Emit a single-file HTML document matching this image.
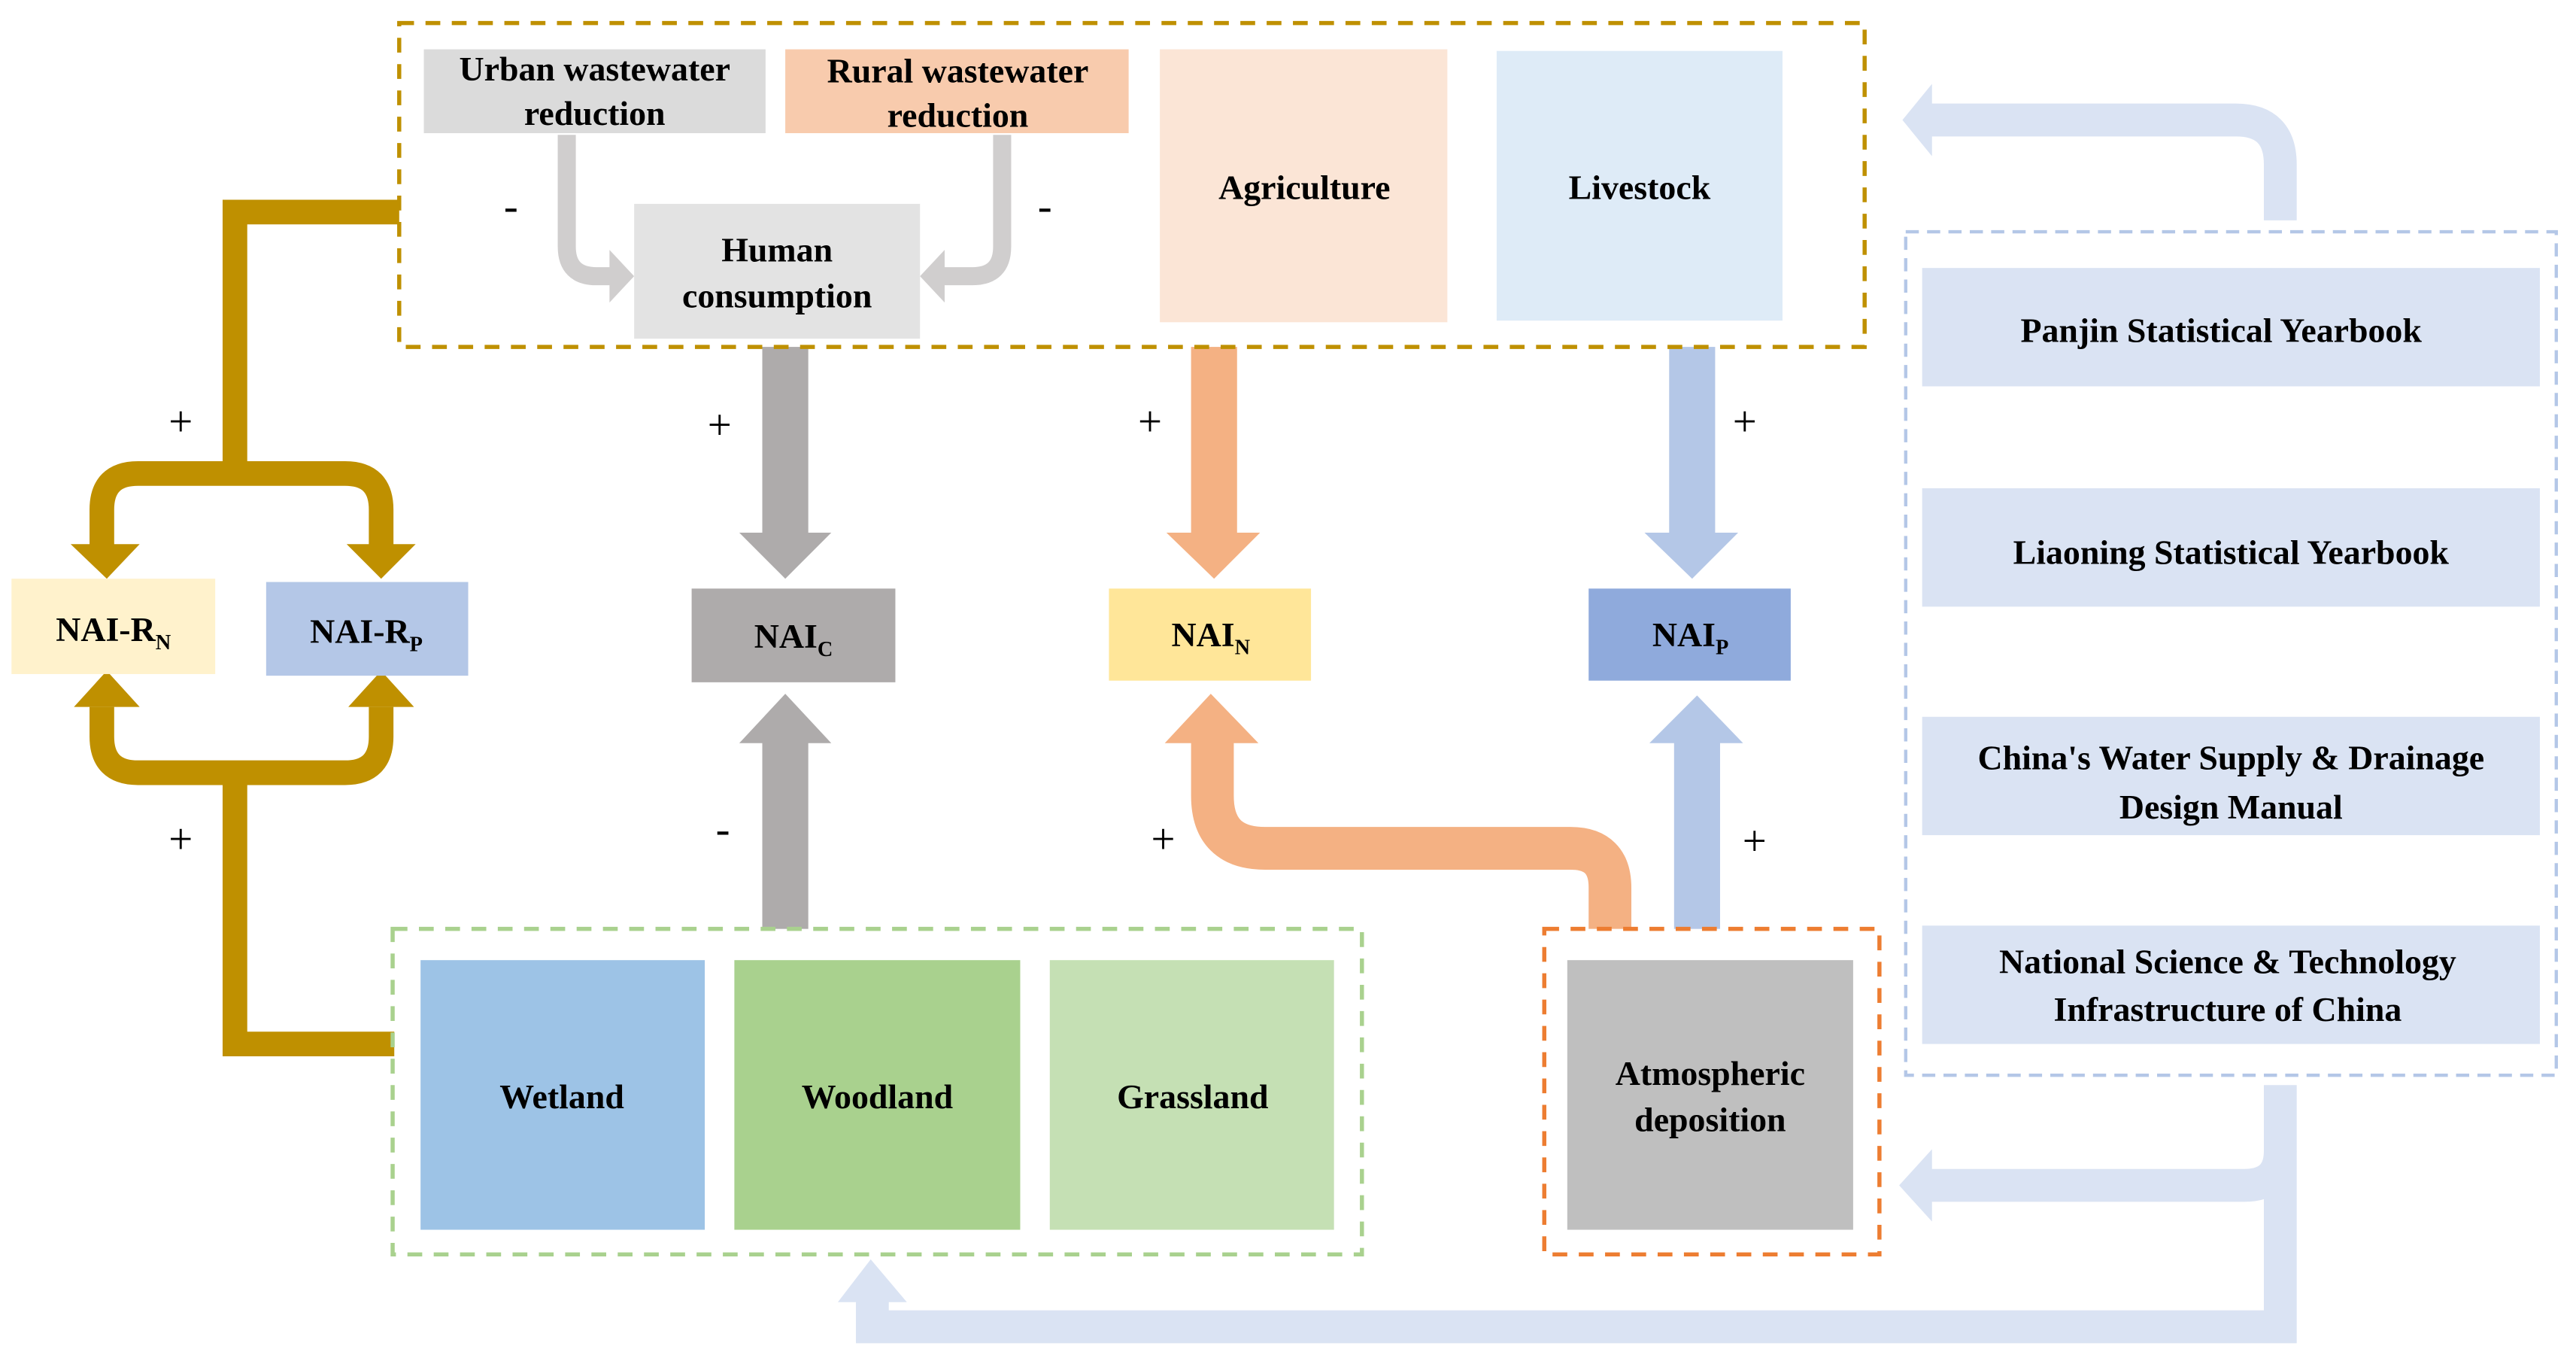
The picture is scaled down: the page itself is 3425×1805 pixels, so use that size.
<!DOCTYPE html>
<html><head><meta charset="utf-8"><style>
html,body{margin:0;padding:0;background:#fff;}
svg{display:block;}
</style></head><body>
<svg width="3425" height="1805" viewBox="0 0 1568 826" preserveAspectRatio="none" xmlns="http://www.w3.org/2000/svg" font-family="'Liberation Serif', 'Times New Roman', 'DejaVu Serif', serif">
<g fill="none" stroke="#DAE3F3" stroke-width="20">
<path d="M1388 134 V100 Q1388 73 1361 73 H1172"/>
<path d="M1388 660 V807 H531 V788"/>
<path d="M1388 700 Q1388 721 1366 721 H1172"/>
</g>
<g fill="#DAE3F3">
<polygon points="1158,73 1176,51 1176,95"/>
<polygon points="1156,721 1176,699 1176,743"/>
<polygon points="530,766 510,792 552,792"/>
</g>

<g fill="none" stroke="#BF9000" stroke-width="15">
<path d="M243 129 H143 V288"/>
<path d="M62 336 V310 Q62 288 84 288 H210 Q232 288 232 310 V336"/>
<path d="M62 430 V448 Q62 470 84 470 H210 Q232 470 232 448 V430"/>
<path d="M143 470 V635 H240"/>
</g>
<g fill="#BF9000">
<polygon points="65,352 43,331 85,331"/>
<polygon points="232,352 211,331 253,331"/>
<polygon points="65,408 45,430 85,430"/>
<polygon points="232,408 212,430 252,430"/>
</g>

<g fill="none" stroke="#D0CECE" stroke-width="11">
<path d="M345 82 V150 Q345 168 363 168 H372"/>
<path d="M610 82 V150 Q610 168 592 168 H574"/>
</g>
<g fill="#D0CECE">
<polygon points="386,168 371,152 371,184"/>
<polygon points="560,168 575,152 575,184"/>
</g>

<rect x="464" y="211" width="28" height="115" fill="#AEABAB"/>
<polygon points="478,352 450,324 506,324" fill="#AEABAB"/>
<rect x="464" y="450" width="28" height="115" fill="#AEABAB"/>
<polygon points="478,422 450,452 506,452" fill="#AEABAB"/>
<rect x="725" y="211" width="28" height="115" fill="#F4B183"/>
<polygon points="739,352 710,324 767,324" fill="#F4B183"/>
<rect x="1016" y="211" width="28" height="115" fill="#B4C7E7"/>
<polygon points="1030,352 1001,324 1058,324" fill="#B4C7E7"/>
<rect x="1019" y="450" width="28" height="115" fill="#B4C7E7"/>
<polygon points="1033,423 1004,452 1061,452" fill="#B4C7E7"/>
<path d="M980 565 V540 Q980 516 956 516 H770 Q738 516 738 484 V450" fill="none" stroke="#F4B183" stroke-width="26"/>
<polygon points="737,422 709,452 766,452" fill="#F4B183"/>

<rect x="243" y="14" width="892" height="197" fill="none" stroke="#BF9000" stroke-width="2.5" stroke-dasharray="9,7"/>
<rect x="258" y="30" width="208" height="51" fill="#DBDBDB"/>
<rect x="478" y="30" width="209" height="51" fill="#F8CBAD"/>
<rect x="386" y="124" width="174" height="82" fill="#E3E3E3"/>
<rect x="706" y="30" width="175" height="166" fill="#FBE5D6"/>
<rect x="911" y="31" width="174" height="164" fill="#DEEBF7"/>
<g font-size="21" text-anchor="middle" font-weight="bold" fill="#000">
<text x="362" y="49">Urban wastewater</text>
<text x="362" y="76">reduction</text>
<text x="583" y="50">Rural wastewater</text>
<text x="583" y="77">reduction</text>
<text x="473" y="159">Human</text>
<text x="473" y="187">consumption</text>
<text x="794" y="121">Agriculture</text>
<text x="998" y="121">Livestock</text>
</g>

<rect x="7" y="352" width="124" height="58" fill="#FFF2CC"/>
<rect x="162" y="354" width="123" height="57" fill="#B4C7E7"/>
<rect x="421" y="358" width="124" height="57" fill="#AEABAB"/>
<rect x="675" y="358" width="123" height="56" fill="#FFE699"/>
<rect x="967" y="358" width="123" height="56" fill="#8FAADC"/>
<g font-size="21" text-anchor="middle" font-weight="bold" fill="#000">
<text x="69" y="390">NAI-R<tspan font-size="13" dy="5">N</tspan></text>
<text x="223" y="391">NAI-R<tspan font-size="13" dy="5">P</tspan></text>
<text x="483" y="394">NAI<tspan font-size="13" dy="5">C</tspan></text>
<text x="737" y="393">NAI<tspan font-size="13" dy="5">N</tspan></text>
<text x="1029" y="393">NAI<tspan font-size="13" dy="5">P</tspan></text>
</g>

<rect x="239" y="565" width="590" height="198" fill="none" stroke="#A9D18E" stroke-width="2.5" stroke-dasharray="9,7"/>
<rect x="256" y="584" width="173" height="164" fill="#9DC3E6"/>
<rect x="447" y="584" width="174" height="164" fill="#A9D18E"/>
<rect x="639" y="584" width="173" height="164" fill="#C5E0B4"/>
<rect x="940" y="565" width="204" height="198" fill="none" stroke="#ED7D31" stroke-width="2.5" stroke-dasharray="9,7"/>
<rect x="954" y="584" width="174" height="164" fill="#BFBFBF"/>
<g font-size="21" text-anchor="middle" font-weight="bold" fill="#000">
<text x="342" y="674">Wetland</text>
<text x="534" y="674">Woodland</text>
<text x="726" y="674">Grassland</text>
<text x="1041" y="660">Atmospheric</text>
<text x="1041" y="688">deposition</text>
</g>

<rect x="1160" y="141" width="396" height="513" fill="none" stroke="#B4C7E7" stroke-width="2" stroke-dasharray="8,5"/>
<rect x="1170" y="163" width="376" height="72" fill="#DAE3F3"/>
<rect x="1170" y="297" width="376" height="72" fill="#DAE3F3"/>
<rect x="1170" y="436" width="376" height="72" fill="#DAE3F3"/>
<rect x="1170" y="563" width="376" height="72" fill="#DAE3F3"/>
<g font-size="21" text-anchor="middle" font-weight="bold" fill="#000">
<text x="1352" y="208">Panjin Statistical Yearbook</text>
<text x="1358" y="343">Liaoning Statistical Yearbook</text>
<text x="1358" y="468">China's Water Supply &amp; Drainage</text>
<text x="1358" y="498">Design Manual</text>
<text x="1356" y="592">National Science &amp; Technology</text>
<text x="1356" y="621">Infrastructure of China</text>
</g>

<g font-size="26" text-anchor="middle" font-weight="normal" fill="#000">
<text x="110" y="265">+</text>
<text x="110" y="519">+</text>
<text x="438" y="267">+</text>
<text x="440" y="513">-</text>
<text x="700" y="265">+</text>
<text x="708" y="519">+</text>
<text x="1062" y="265">+</text>
<text x="1068" y="520">+</text>
<text x="311" y="134">-</text>
<text x="636" y="134">-</text>
</g>
</svg>
</body></html>
